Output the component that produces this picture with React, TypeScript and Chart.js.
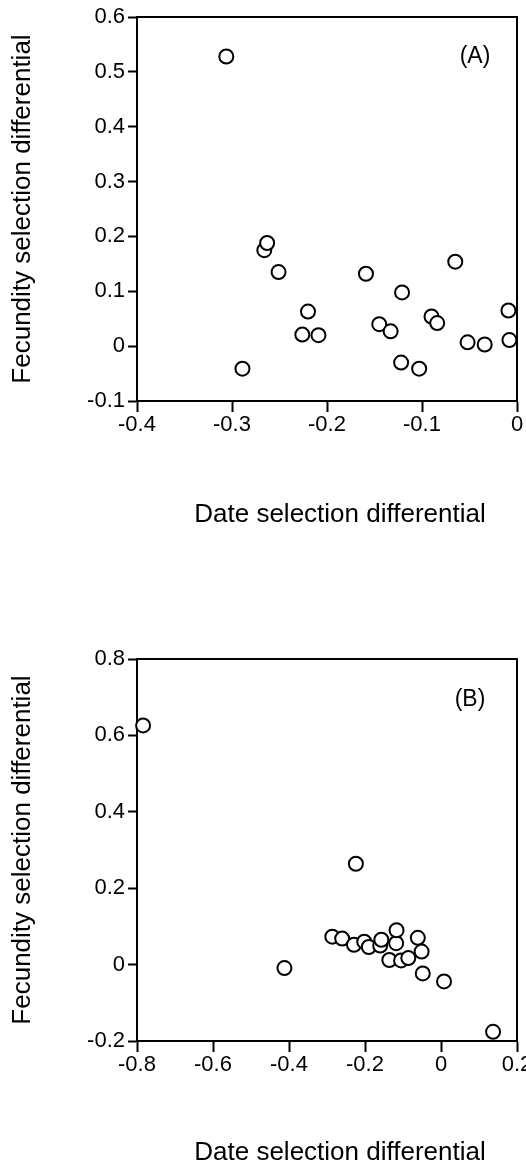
import React, { useEffect, useRef } from "react";
import { Chart, registerables } from "chart.js";

Chart.register(...registerables);

const FONT = "'Liberation Sans', Arial, Helvetica, sans-serif";

const X_TITLE = "Date selection differential";
const Y_TITLE = "Fecundity selection differential";

// Panel A
const xA = [-0.306, -0.289, -0.266, -0.263, -0.251, -0.226, -0.22, -0.209, -0.159, -0.145, -0.133, -0.122, -0.121, -0.103, -0.09, -0.084, -0.065, -0.052, -0.034, -0.009, -0.008];
const yA = [0.528, -0.041, 0.175, 0.188, 0.135, 0.021, 0.063, 0.02, 0.132, 0.04, 0.027, -0.03, 0.098, -0.041, 0.054, 0.042, 0.154, 0.007, 0.003, 0.065, 0.011];
const xTicksA = [-0.4, -0.3, -0.2, -0.1, 0];
const yTicksA = [-0.1, 0, 0.1, 0.2, 0.3, 0.4, 0.5, 0.6];

// Panel B
const xB = [-0.784, -0.412, -0.224, -0.286, -0.26, -0.229, -0.202, -0.19, -0.16, -0.157, -0.136, -0.118, -0.117, -0.105, -0.086, -0.061, -0.051, -0.048, 0.008, 0.137];
const yB = [0.626, -0.009, 0.264, 0.073, 0.068, 0.052, 0.06, 0.046, 0.05, 0.065, 0.012, 0.056, 0.09, 0.011, 0.017, 0.07, 0.034, -0.023, -0.044, -0.176];
const xTicksB = [-0.8, -0.6, -0.4, -0.2, 0, 0.2];
const yTicksB = [-0.2, 0, 0.2, 0.4, 0.6, 0.8];

type PanelProps = {
  xs: number[];
  ys: number[];
  xTicks: number[];
  yTicks: number[];
  label: string;
  top: number;
  height: number;
  padTop: number;
  padRight: number;
  xAxisHeight: number;
  labelDx: number;
  labelDy: number;
};

function Panel(p: PanelProps) {
  const ref = useRef<HTMLCanvasElement | null>(null);
  useEffect(() => {
    if (!ref.current) return;
    const texts = {
      id: "panelTexts",
      afterDraw(chart: any) {
        const { ctx, chartArea } = chart;
        ctx.save();
        ctx.fillStyle = "#000";
        ctx.textAlign = "center";
        ctx.textBaseline = "middle";
        ctx.font = `23px ${FONT}`;
        ctx.fillText(p.label, chartArea.right - p.labelDx, chartArea.top + p.labelDy);
        ctx.font = `26px ${FONT}`;
        ctx.fillText(X_TITLE, (chartArea.left + chartArea.right) / 2 + 13, chart.height - 13);
        ctx.restore();
      },
    };
    const tickFont = { family: FONT, size: 22 };
    const titleFont = { family: FONT, size: 26, lineHeight: 1 };
    const chart = new Chart(ref.current, {
      type: "scatter",
      data: {
        datasets: [
          {
            data: p.xs.map((x, i) => ({ x, y: p.ys[i] })),
            xAxisID: "x",
            yAxisID: "y",
            pointRadius: 7,
            pointHoverRadius: 7,
            pointBackgroundColor: "#fff",
            pointBorderColor: "#000",
            pointBorderWidth: 2,
            showLine: false,
            clip: false,
          } as any,
        ],
      },
      options: {
        animation: false,
        responsive: false,
        events: [],
        layout: { padding: { top: p.padTop, left: 0, right: p.padRight, bottom: 0 } },
        plugins: {
          legend: { display: false },
          tooltip: { enabled: false },
          title: { display: false },
        },
        scales: {
          x: {
            type: "linear",
            position: "bottom",
            min: p.xTicks[0],
            max: p.xTicks[p.xTicks.length - 1],
            afterBuildTicks: (s: any) => {
              s.ticks = p.xTicks.map((v) => ({ value: v }));
            },
            afterFit: (s: any) => {
              s.height = p.xAxisHeight;
              s.paddingLeft = 0;
              s.paddingRight = 0;
            },
            ticks: {
              color: "#000",
              font: tickFont,
              padding: 0,
              maxRotation: 0,
              autoSkip: false,
              callback: (v: any) => String(v),
            },
            grid: {
              display: true,
              drawOnChartArea: false,
              drawTicks: true,
              tickLength: 11,
              tickWidth: 2,
              tickColor: "#000",
              color: "#000",
            },
            border: { display: true, color: "#000", width: 2 },
            title: { display: false, text: X_TITLE },
          },
          y: {
            type: "linear",
            position: "left",
            min: p.yTicks[0],
            max: p.yTicks[p.yTicks.length - 1],
            afterBuildTicks: (s: any) => {
              s.ticks = p.yTicks.map((v) => ({ value: v }));
            },
            afterFit: (s: any) => {
              s.width = 137;
              s.paddingTop = 0;
              s.paddingBottom = 0;
            },
            ticks: {
              color: "#000",
              font: tickFont,
              padding: 3,
              autoSkip: false,
              callback: (v: any) => String(v),
            },
            grid: {
              display: true,
              drawOnChartArea: false,
              drawTicks: true,
              tickLength: 9,
              tickWidth: 2,
              tickColor: "#000",
              color: "#000",
            },
            border: { display: true, color: "#000", width: 2 },
            title: {
              display: true,
              text: Y_TITLE,
              color: "#000",
              font: titleFont,
              padding: { top: 10, bottom: 0 },
            },
          },
          x2: {
            type: "linear",
            position: "top",
            display: true,
            ticks: { display: false },
            grid: { display: false },
            border: { display: true, color: "#000", width: 2 },
            afterFit: (s: any) => {
              s.height = 0;
              s.paddingLeft = 0;
              s.paddingRight = 0;
            },
          },
          y2: {
            type: "linear",
            position: "right",
            display: true,
            ticks: { display: false },
            grid: { display: false },
            border: { display: true, color: "#000", width: 2 },
            afterFit: (s: any) => {
              s.width = 0;
              s.paddingTop = 0;
              s.paddingBottom = 0;
            },
          },
        } as any,
      },
      plugins: [texts],
    });
    return () => chart.destroy();
  }, []);
  return (
    <canvas
      ref={ref}
      width={526}
      height={p.height}
      style={{ position: "absolute", left: 0, top: p.top, width: 526, height: p.height, display: "block" }}
    />
  );
}

export default function App() {
  return (
    <div
      style={{
        position: "absolute",
        left: 0,
        top: 0,
        width: 526,
        height: 1166,
        overflow: "hidden",
        background: "#fff",
      }}
    >
      <Panel
        xs={xA}
        ys={yA}
        xTicks={xTicksA}
        yTicks={yTicksA}
        label="(A)"
        top={0}
        height={528}
        padTop={17}
        padRight={8}
        xAxisHeight={127}
        labelDx={42}
        labelDy={40}
      />
      <Panel
        xs={xB}
        ys={yB}
        xTicks={xTicksB}
        yTicks={yTicksB}
        label="(B)"
        top={560}
        height={606}
        padTop={99}
        padRight={9}
        xAxisHeight={125}
        labelDx={47}
        labelDy={41}
      />
    </div>
  );
}
